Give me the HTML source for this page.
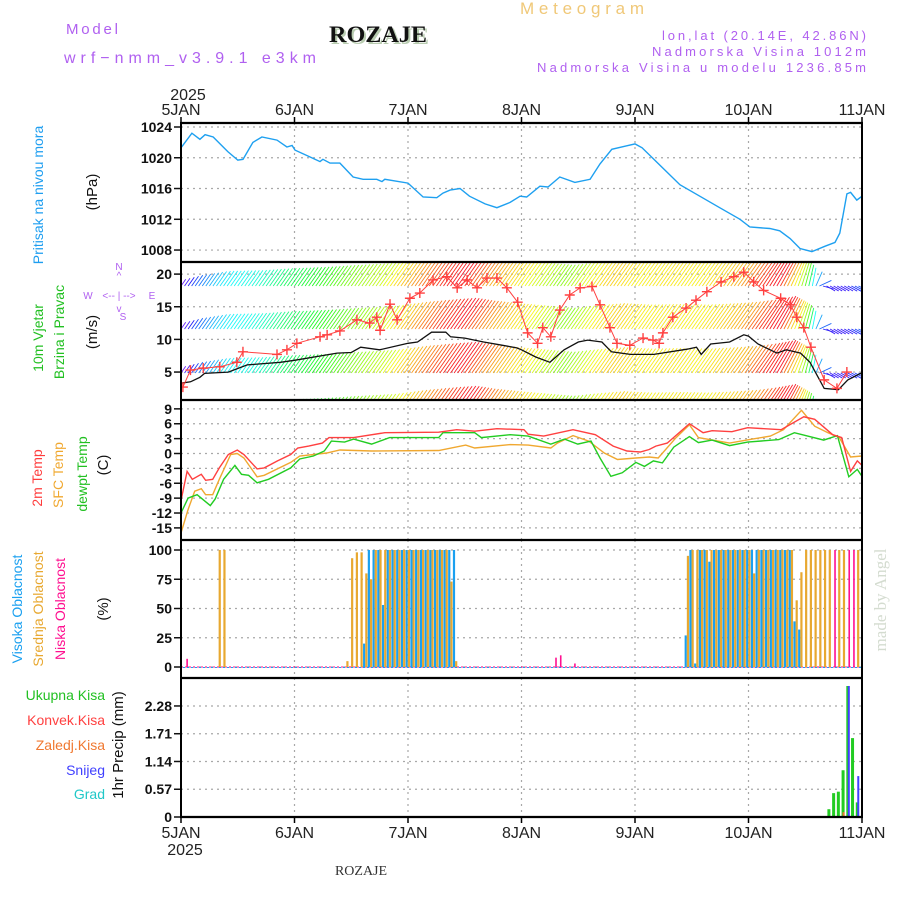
<!DOCTYPE html>
<html><head><meta charset="utf-8"><title>Meteogram ROZAJE</title>
<style>
html,body{margin:0;padding:0;background:#fff;}
svg{display:block;}
text{font-family:"Liberation Sans",sans-serif;}
text.serif{font-family:"Liberation Serif",serif;}
</style></head>
<body>
<svg id="chart" width="900" height="900" viewBox="0 0 900 900" xmlns="http://www.w3.org/2000/svg">
<defs>
<clipPath id="c1"><rect x="181" y="123" width="681" height="139"/></clipPath>
<clipPath id="c2"><rect x="181" y="263" width="681" height="137"/></clipPath>
<clipPath id="c3"><rect x="181" y="401" width="681" height="139"/></clipPath>
<clipPath id="c4"><rect x="181" y="541" width="681" height="137"/></clipPath>
<clipPath id="c5"><rect x="181" y="679" width="681" height="138"/></clipPath>
</defs>
<!-- header -->
<text x="66" y="34" font-size="15" fill="#b060f0" textLength="52" lengthAdjust="spacing">Model</text>
<text x="64" y="63" font-size="16" fill="#b060f0" textLength="252" lengthAdjust="spacing">wrf−nmm_v3.9.1 e3km</text>
<text class="serif" x="331" y="44" font-size="23" font-weight="bold" fill="#b8ccb0" textLength="98" lengthAdjust="spacingAndGlyphs">ROZAJE</text>
<text class="serif" x="329" y="42" font-size="23" font-weight="bold" fill="#111" textLength="98" lengthAdjust="spacingAndGlyphs">ROZAJE</text>
<text x="520" y="14" font-size="17" fill="#f0c878" textLength="124" lengthAdjust="spacing">Meteogram</text>
<text x="866" y="40" font-size="13" fill="#b060f0" text-anchor="end" textLength="204" lengthAdjust="spacing">lon,lat (20.14E, 42.86N)</text>
<text x="866" y="56" font-size="13" fill="#b060f0" text-anchor="end" textLength="214" lengthAdjust="spacing">Nadmorska Visina 1012m</text>
<text x="866" y="72" font-size="13" fill="#b060f0" text-anchor="end" textLength="329" lengthAdjust="spacing">Nadmorska Visina u modelu 1236.85m</text>
<text x="188" y="100" font-size="16" fill="#222" text-anchor="middle">2025</text>
<text x="185" y="855" font-size="16" fill="#222" text-anchor="middle">2025</text>
<text class="serif" x="361" y="875" font-size="14" fill="#333" text-anchor="middle">ROZAJE</text>
<text class="serif" transform="translate(886,600) rotate(-90)" font-size="17" fill="#d4dcd0" text-anchor="middle">made by Angel</text>

<!-- left labels -->
<text transform="translate(43,195) rotate(-90)" font-size="14" fill="#1e9ef0" text-anchor="middle">Pritisak na nivou mora</text>
<text transform="translate(97,192) rotate(-90)" font-size="15" fill="#111" text-anchor="middle">(hPa)</text>
<text transform="translate(43,338) rotate(-90)" font-size="14" fill="#22c022" text-anchor="middle">10m Vjetar</text>
<text transform="translate(64,332) rotate(-90)" font-size="14" fill="#22c022" text-anchor="middle">Brzina i Pravac</text>
<text transform="translate(97,332) rotate(-90)" font-size="15" fill="#111" text-anchor="middle">(m/s)</text>
<g fill="#b060f0" font-size="10">
<text x="119" y="270" text-anchor="middle">N</text>
<text x="119" y="279" text-anchor="middle">^</text>
<text x="88" y="299" text-anchor="middle">W</text>
<text x="152" y="299" text-anchor="middle">E</text>
<text x="119" y="299" text-anchor="middle">&lt;-- | --&gt;</text>
<text x="119" y="312" text-anchor="middle">v</text>
<text x="123" y="320" text-anchor="middle">S</text>
</g>
<text transform="translate(42,478) rotate(-90)" font-size="14" fill="#ff3c3c" text-anchor="middle">2m Temp</text>
<text transform="translate(63,475) rotate(-90)" font-size="14" fill="#f0a830" text-anchor="middle">SFC Temp</text>
<text transform="translate(87,474) rotate(-90)" font-size="14" fill="#22c022" text-anchor="middle">dewpt Temp</text>
<text transform="translate(108,465) rotate(-90)" font-size="15" fill="#111" text-anchor="middle">(C)</text>
<text transform="translate(22,609) rotate(-90)" font-size="14" fill="#1aa0f0" text-anchor="middle">Visoka Oblacnost</text>
<text transform="translate(43,609) rotate(-90)" font-size="14" fill="#e8a830" text-anchor="middle">Srednja Oblacnost</text>
<text transform="translate(65,609) rotate(-90)" font-size="14" fill="#ff1090" text-anchor="middle">Niska Oblacnost</text>
<text transform="translate(108,609) rotate(-90)" font-size="15" fill="#111" text-anchor="middle">(%)</text>
<text x="105" y="700" font-size="14" fill="#22c022" text-anchor="end">Ukupna  Kisa</text>
<text x="105" y="725" font-size="14" fill="#ff4040" text-anchor="end">Konvek.Kisa</text>
<text x="105" y="750" font-size="14" fill="#f07830" text-anchor="end">Zaledj.Kisa</text>
<text x="105" y="775" font-size="14" fill="#4040ff" text-anchor="end">Snijeg</text>
<text x="105" y="799" font-size="14" fill="#20c8c8" text-anchor="end">Grad</text>
<text transform="translate(123,745) rotate(-90)" font-size="15" fill="#111" text-anchor="middle">1hr Precip (mm)</text>
<g id="plot"></g>
</svg>
<script>
// ---- data ----
const days = ["5JAN","6JAN","7JAN","8JAN","9JAN","10JAN","11JAN"];
const pressHours = [0,2.3,4,5.1,6.8,9.9,12,13.1,15.2,17.1,20.3,22.4,23.5,24.1,27.3,29.4,30,31.5,33.6,36.4,38.5,41.4,42.5,43.1,48,51.2,54.1,55.4,56.9,59,61,64.3,66.8,69.6,71.7,73.1,75.9,77.6,80.1,83.3,86.5,88.6,91.1,93.9,96,97.5,101.3,105.5,109.7,113.9,118.2,120.3,124.5,126.6,128.8,130.9,133.4,136.2,138.3,139.3,140.8,141.6,142.9,144];
const pressVals = [1021.3,1023.2,1022.4,1023,1022.7,1020.8,1019.7,1019.8,1022,1022.7,1022.3,1021.4,1021.6,1021,1020.1,1019.5,1019.8,1019.3,1019.3,1017.5,1017.2,1017.2,1016.9,1017.2,1016.7,1014.9,1014.8,1015.4,1015.8,1016,1015,1014,1013.5,1014.2,1015,1014.9,1016.3,1016.2,1017.5,1016.8,1017.2,1019.2,1021.1,1021.5,1021.8,1021.3,1019,1016.5,1015,1013.5,1012,1011,1010.8,1010.5,1009.5,1008.2,1007.8,1008.5,1009,1010.2,1015.3,1015.5,1014.5,1015];
const pressTicks = [1024,1020,1016,1012,1008];

const windHours = [0,2,4,5,10,14,21,24,33,36,38,42,48,50,53,56,57,60,64,68,71,72,75,78,81,84,86,89,91,95,100,107,109,110,112,116,119,120,122,126,128,131,133,136,139,141,144];
const windSpeed = [3.3,3.5,4.2,4.8,5.0,6.1,6.5,6.8,7.9,8.0,8.8,8.4,9.4,9.6,11.1,11.1,10.4,10.2,9.6,9.1,8.7,8.4,7.3,6.5,8.4,9.6,9.9,9.6,8.1,7.7,7.7,8.5,8.8,7.7,9.3,9.6,10.7,10.5,9.3,7.9,8.4,7.9,6.5,2.5,2.3,3.8,4.9];
const gustHours = [0.4,2,4.7,8.2,11.8,13.1,20.3,22.4,24.5,29.4,30.9,33.6,37.2,39.9,41.4,42.1,44.2,45.7,48.4,50.5,53.3,56.2,58.4,60.5,62.6,64.7,66.8,68.9,71.2,73.3,75.4,76.5,78.2,80.1,82.2,84.4,86.9,88.6,90.7,92.2,94.9,97.7,99.8,101.1,101.9,104,106.8,108.9,111.2,114.2,116.9,119,121.1,123.2,126.8,128.9,130.2,131.7,133.2,136,138.7,140.8];
const gustVals = [2.7,5.3,5.6,5.8,6.5,8.1,7.7,8.4,9.4,10.4,10.7,11.3,13.0,12.5,13.4,11.4,15.4,13.0,16.3,17.1,19.1,19.6,17.9,19.1,17.9,19.4,19.4,17.9,15.7,11.0,9.4,11.8,10.4,14.5,16.8,17.9,18.1,15.3,11.8,9.4,9.1,10.2,9.9,9.4,11.0,13.4,14.8,16.0,17.3,18.8,19.6,20.3,18.8,17.5,16.3,15.3,13.4,11.8,8.8,3.8,2.5,5.0];
const barbHours = [0,3,8,15,21,28,35,42,48,54,58,62,68,75,80,85,90,96,102,108,114,118,122,126,129,132,134,136,140,144];
const barbSpeed = [2.5,4,5.5,5.8,6.5,7,7.8,8.5,10,11,11.5,10.5,9.5,8.5,7.8,8.8,9.5,9,9.2,9,9.5,10,11,11.5,9.5,7.5,5,3,3,4];
const barbDir = [35,35,35,35,35,35,35,35,35,35,35,35,35,35,35,35,35,35,35,35,35,35,35,30,25,15,10,120,120,115];
const windTicks = [20,15,10,5];

const tHours2m = [0,1.3,2.4,4.3,5.2,6.7,8.1,10,11.9,13.3,16.1,17.6,20.4,23.2,24.7,27,29.9,31.3,36.5,43.1,54.5,58.3,62.1,66.8,72.5,73.4,76.7,82.9,87.6,91.4,94.3,97.1,99,100.4,102.8,107.5,110.4,112.3,116.5,119.8,126.9,131.7,134,137.8,139.7,141.6,143,144];
const t2m = [-9.5,-3.6,-5.2,-4.2,-5.4,-5.2,-2.9,-0.2,0.7,-0.2,-3.1,-2.9,-1.5,-0.2,1.1,1.5,2.1,3.2,3.2,4.2,4.3,4.8,4.5,5.0,4.8,3.9,3.5,4.8,3.8,1.5,0.5,0.3,0.8,1.5,2.1,6.0,4.2,4.6,4.4,5.2,4.8,7.4,6.9,3.8,3.2,-3.6,-1.5,-2.4];
const tHoursSfc = [0,1.5,2.9,4.3,5.2,6.7,8.1,10.5,11.9,13.3,16.1,17.6,23.2,25.1,30.8,33.6,40.3,54.5,60.2,62.1,69.6,73.4,78.2,79.6,82.9,86.2,89.5,92.3,96.2,99,100.9,104.7,107.5,109.4,116,120.8,124.6,127.4,131.2,134,136.8,139.2,141.6,144];
const tSfc = [-16,-11.3,-7.6,-7.1,-8.3,-8.3,-5.2,-0.2,0,-0.9,-4.7,-4.4,-1.8,-0.5,0.1,0.7,0.5,0.6,1.7,1.1,1.8,1.7,1.1,2.1,3.6,2.5,0.1,-1.2,-0.9,-0.7,-0.9,3.2,5.8,3.2,2.1,2.9,3.5,4.8,8.7,5.5,4.2,3.2,-0.7,-0.5];
const tHoursDew = [0,1.5,3.4,6.2,7.2,9,11.4,12.8,14.3,16.1,18.5,23.2,25.1,28,30.3,31.8,34.6,36.5,40.3,44.1,54.5,55.4,62.1,63.5,69.6,73.4,78.2,81.1,83.9,86.7,88.6,90.9,93.3,96.2,98,99.9,101.8,104.2,107.5,109.4,112.3,116,119.8,126.4,129.7,135.9,138.8,141.2,143,144];
const tDew = [-12,-9,-8.3,-10.5,-9.2,-5.2,-2.4,-4.2,-4.4,-5.9,-5.2,-2.9,-1.1,-0.5,0.5,2.5,2.3,2.9,1.9,3.2,3.2,4.2,4.2,3.2,3.8,3.5,1.9,2.9,1.9,2.5,-0.9,-4.6,-3.9,-1.8,-2.6,-1.5,-1.9,1.3,3.4,2.2,2.7,1.6,2.3,2.8,4.2,2.7,3.6,-4.7,-3.2,-4.6];
const tempTicks = [9,6,3,0,-3,-6,-9,-12,-15];

const cloudHours = [1,8,9,35,36,37,38,39,40,41,42,43,44,45,46,47,48,49,50,51,52,53,54,55,56,57,58,79,80,83,107,108,109,110,111,112,113,114,115,116,117,118,119,120,121,122,123,124,125,126,127,128,129,130,131,132,133,134,135,136,137,138,139,140,141,142,143];
const highCloud = [0,0,0,0,0,0,0,20,100,100,100,53,100,100,100,100,100,100,100,100,100,100,100,100,100,100,100,0,0,0,27,100,3,100,100,90,100,100,100,100,100,100,100,100,100,100,100,100,100,100,100,100,100,39,32,0,0,0,0,0,0,0,0,0,0,0,0];
const midCloud = [0,100,100,5,93,98,98,80,75,100,100,100,100,100,100,100,100,100,100,100,100,100,100,100,100,73,5,0,0,0,95,100,100,100,100,100,100,100,100,100,100,100,100,100,80,100,100,100,100,100,100,100,100,57,81,100,100,100,100,100,100,0,100,100,0,0,100];
const lowCloud = [7,0,0,0,0,0,0,0,0,0,0,0,0,0,0,0,0,0,0,0,0,0,0,0,0,0,0,8,10,3,0,0,0,0,0,0,0,0,0,0,0,0,0,0,0,0,0,0,0,0,0,0,0,0,0,0,0,0,0,0,0,100,0,0,100,100,0];
const cloudTicks = [100,75,50,25,0];

const precipHours = [137,138,139,140,141,142,143];
const precipTotal = [0.16,0.49,0.52,0.96,2.69,1.62,0.3];
const precipSnow = [0,0,0,0,2.69,0,0.84];
const precipFrozen = [0,0,0,0.1,0,0,0];
const precipTicks = [2.28,1.71,1.14,0.57,0];

// ---- scales ----
const X0=181, X1=862;
const xS = h => X0 + h*(X1-X0)/144;
const yP = v => 127 + (1024-v)*7.69;
const yW = v => 404.7 - v*6.53;
const yT = v => 453.5 - v*4.96;
const yC = v => 667 - v*1.17;
const yR = v => 817 - v*48.7;

const NS="http://www.w3.org/2000/svg";
const plot=document.getElementById('plot');
function el(tag, attrs, parent){const e=document.createElementNS(NS,tag);for(const k in attrs)e.setAttribute(k,attrs[k]);(parent||plot).appendChild(e);return e;}
function interp(hs, vs, h){if(h<=hs[0])return vs[0];for(let i=1;i<hs.length;i++){if(h<=hs[i]){const t=(h-hs[i-1])/(hs[i]-hs[i-1]);return vs[i-1]+t*(vs[i]-vs[i-1]);}}return vs[vs.length-1];}

const panels=[{top:123,bot:262,ticks:pressTicks,y:yP,name:'pressure'},
{top:262,bot:400,ticks:windTicks,y:yW,name:'wind'},
{top:400,bot:540,ticks:tempTicks,y:yT,name:'temperature'},
{top:540,bot:678,ticks:cloudTicks,y:yC,name:'cloud'},
{top:678,bot:817,ticks:precipTicks,y:yR,name:'precip'}];

// grid & axes
panels.forEach(p=>{
  const g=el('g',{});
  
  
  for(let d=1;d<6;d++){
    el('line',{x1:xS(d*24),x2:xS(d*24),y1:p.top,y2:p.bot,stroke:'#a8a8a8','stroke-width':1.2,'stroke-dasharray':'2,4'},g);
  }
  p.ticks.forEach(t=>{
    const y=p.y(t);
    if(y>p.top+2 && y<p.bot-2) el('line',{x1:X0,x2:X1,y1:y,y2:y,stroke:'#a8a8a8','stroke-width':1.2,'stroke-dasharray':'2,4'},g);
    el('line',{x1:X0-7,x2:X0,y1:y,y2:y,stroke:'#111','stroke-width':1.5},g);
    const lab=el('text',{x:172,y:y+5,'font-size':14,fill:'#111','text-anchor':'end','font-weight':'bold'},g);
    
    
    lab.textContent=String(t);
  });
});

// pressure line
(function(){
  const pts=pressHours.map((h,i)=>xS(h).toFixed(1)+','+yP(pressVals[i]).toFixed(1)).join(' ');
  const pl=el('polyline',{points:pts,fill:'none',stroke:'#1ea0f0','stroke-width':1.4,'clip-path':'url(#c1)'});
  
  
})();

// wind barbs
function windColor(s){
  const stops=[[2,275],[4,220],[5.5,185],[7,120],[8,85],[9,58],[10,38],[11,8],[12.5,-30]];
  let hue=interp(stops.map(a=>a[0]),stops.map(a=>a[1]),s);
  if(hue<0)hue+=360;
  return 'hsl('+hue.toFixed(0)+',95%,55%)';
}
(function(){
  const g=el('g',{'clip-path':'url(#c2)'});
  
  
  const rows=[286,329,373,417];
  for(let h=0;h<=144;h+=0.75){
    const s=interp(barbHours,barbSpeed,h);
    const d=interp(barbHours,barbDir,h)*Math.PI/180;
    const L=s*3.3;
    const dx=L*Math.sin(d), dy=-L*Math.cos(d);
    const c=windColor(s);
    rows.forEach(r=>{
      const x=xS(h);
      el('line',{x1:x,y1:r,x2:x+dx,y2:r+dy,stroke:c,'stroke-width':0.9},g);
    });
  }
})();
// wind speed line + gusts
(function(){
  const pts=windHours.map((h,i)=>xS(h).toFixed(1)+','+yW(windSpeed[i]).toFixed(1)).join(' ');
  const pl=el('polyline',{points:pts,fill:'none',stroke:'#111','stroke-width':1.3,'clip-path':'url(#c2)'});
  
  
  const gp=gustHours.map((h,i)=>xS(h).toFixed(1)+','+yW(gustVals[i]).toFixed(1)).join(' ');
  const gl=el('polyline',{points:gp,fill:'none',stroke:'#ff4040','stroke-width':1,'clip-path':'url(#c2)'});
  
  
  const g=el('g',{'clip-path':'url(#c2)'});
  
  
  gustHours.forEach((h,i)=>{
    const x=xS(h), y=yW(gustVals[i]);
    el('path',{d:`M${x-5},${y}H${x+5}M${x},${y-5}V${y+5}`,stroke:'#ff4040','stroke-width':1.4,fill:'none'},g);
  });
})();

// temperatures
[[tHoursSfc,tSfc,'#f0a830','sfc-temp-line'],[tHoursDew,tDew,'#22cc22','dewpoint-line'],[tHours2m,t2m,'#ff4040','temp-2m-line']].forEach(a=>{
  const pts=a[0].map((h,i)=>xS(h).toFixed(1)+','+yT(a[1][i]).toFixed(1)).join(' ');
  const pl=el('polyline',{points:pts,fill:'none',stroke:a[2],'stroke-width':1.4,'clip-path':'url(#c3)'});
  
  
});

// clouds
(function(){
  const g=el('g',{'clip-path':'url(#c4)'});
  
  
  el('line',{x1:X0,x2:X1,y1:yC(0),y2:yC(0),stroke:'#ff1090','stroke-width':1,'stroke-dasharray':'2,2'},g);
  el('line',{x1:X0,x2:X1,y1:yC(0)+0.5,y2:yC(0)+0.5,stroke:'#1aa0f0','stroke-width':1,'stroke-dasharray':'2,2','stroke-dashoffset':2},g);
  cloudHours.forEach((h,i)=>{
    const x=xS(h);
    if(highCloud[i]>0){const r=el('rect',{x:x-2.4,y:yC(highCloud[i]),width:2.2,height:yC(0)-yC(highCloud[i]),fill:'#1aa0f0'},g);
      
      }
    if(midCloud[i]>0){const r=el('rect',{x:x-0.2,y:yC(midCloud[i]),width:2.2,height:yC(0)-yC(midCloud[i]),fill:'#e8a830'},g);
      
      }
    if(lowCloud[i]>0){const r=el('rect',{x:x+0.6,y:yC(lowCloud[i]),width:1.6,height:yC(0)-yC(lowCloud[i]),fill:'#ff1090'},g);
      
      }
  });
})();

// precip
(function(){
  const g=el('g',{'clip-path':'url(#c5)'});
  
  
  precipHours.forEach((h,i)=>{
    const x=xS(h);
    if(precipTotal[i]>0){const r=el('rect',{x:x-1.5,y:yR(precipTotal[i]),width:3,height:yR(0)-yR(precipTotal[i]),fill:'#22cc22'},g);
      
      }
    if(precipSnow[i]>0){const r=el('rect',{x:x,y:yR(precipSnow[i]),width:2,height:yR(0)-yR(precipSnow[i]),fill:'#4040ff'},g);
      
      }
    if(precipFrozen[i]>0){const r=el('rect',{x:x-0.5,y:yR(precipFrozen[i]),width:2,height:yR(0)-yR(precipFrozen[i]),fill:'#f07830'},g);
      
      }
  });
})();

// frames
(function(){
  const g=el('g',{});
  
  
  [123,262,400,540,678,817].forEach(y=>el('line',{x1:X0-1,x2:X1+1,y1:y,y2:y,stroke:'#000','stroke-width':2.2},g));
  el('line',{x1:X0,x2:X0,y1:122,y2:818,stroke:'#000','stroke-width':2},g);
  el('line',{x1:X1,x2:X1,y1:122,y2:818,stroke:'#000','stroke-width':2},g);
  days.forEach((d,i)=>{
    const x=xS(i*24);
    el('line',{x1:x,x2:x,y1:117,y2:123,stroke:'#000','stroke-width':1.5},g);
    el('line',{x1:x,x2:x,y1:817,y2:823,stroke:'#000','stroke-width':1.5},g);
    const t=el('text',{x:x,y:115,'font-size':16,fill:'#222','text-anchor':'middle'},g);
    
    
    t.textContent=d;
    const b=el('text',{x:x,y:838,'font-size':16,fill:'#222','text-anchor':'middle'},g);
    
    
    b.textContent=d;
  });
})();
</script>
</body></html>
